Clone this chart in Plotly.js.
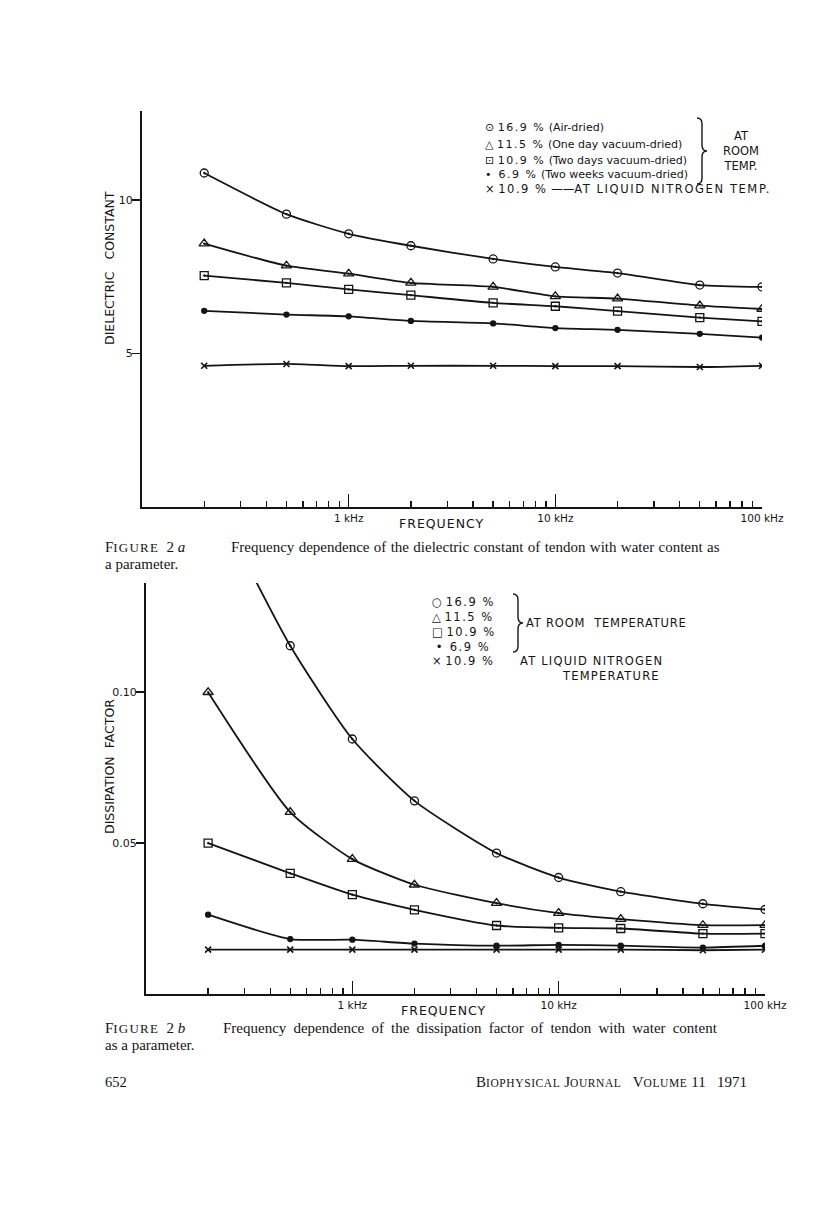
<!DOCTYPE html>
<html>
<head>
<meta charset="utf-8">
<script src="https://cdn.plot.ly/plotly-3.0.1.min.js"></script>
<style>
  body { margin: 0; background: #fff; }
  #page { width: 816px; height: 1212px; }
</style>
</head>
<body>
<div id="page"></div>
<script>
// frequencies in kHz (same for both figures)
var freqKHz = [0.2, 0.5, 1, 2, 5, 10, 20, 50, 100];

// Figure 2a - dielectric constant
var dc169 = [10.88, 9.54, 8.90, 8.51, 8.08, 7.82, 7.62, 7.23, 7.17];
var dc115 = [8.58, 7.86, 7.60, 7.30, 7.17, 6.86, 6.79, 6.56, 6.45];
var dc109 = [7.54, 7.30, 7.09, 6.90, 6.65, 6.54, 6.38, 6.17, 6.05];
var dc69  = [6.39, 6.27, 6.21, 6.06, 5.98, 5.83, 5.77, 5.64, 5.52];
var dcN2  = [4.60, 4.66, 4.59, 4.60, 4.60, 4.59, 4.59, 4.56, 4.60];

// Figure 2b - dissipation factor (first 16.9 % point is above the frame)
var df169 = [0.168, 0.1154, 0.0845, 0.0640, 0.0467, 0.0386, 0.0339, 0.0299, 0.0280];
var df115 = [0.1000, 0.0603, 0.0447, 0.0362, 0.0301, 0.0268, 0.0248, 0.0228, 0.0228];
var df109 = [0.0500, 0.0400, 0.0329, 0.0279, 0.0227, 0.0219, 0.0217, 0.0200, 0.0200];
var df69  = [0.0263, 0.0182, 0.0180, 0.0167, 0.0160, 0.0163, 0.0160, 0.0154, 0.0160];
var dfN2  = [0.0147, 0.0147, 0.0147, 0.0147, 0.0147, 0.0147, 0.0147, 0.0145, 0.0147];

var majorVals = [1, 10, 100];
var majorText = ['1 kHz', '10 kHz', '100 kHz'];
var minorVals = [0.2, 0.3, 0.4, 0.5, 0.6, 0.7, 0.8, 0.9,
                 2, 3, 4, 5, 6, 7, 8, 9,
                 20, 30, 40, 50, 60, 70, 80, 90];

var W = 816, H = 1212;
var INK = '#141414';
function px(x) { return x / W; }
function py(y) { return 1 - y / H; }

function series(y, symbol, size, xa, ya) {
  var m = {symbol: symbol, size: size, color: INK, line: {color: INK, width: 1.3}};
  if (symbol == 'x-thin') m.line.width = 1.6;
  return {
    x: freqKHz, y: y, xaxis: xa, yaxis: ya,
    mode: 'lines+markers', type: 'scatter',
    line: {color: INK, width: 1.8, shape: 'spline', smoothing: 0.6},
    marker: m, showlegend: false, hoverinfo: 'skip'
  };
}

var data = [
  series(dc169, 'circle-open-dot', 8, 'x', 'y'),
  series(dc115, 'triangle-up-open-dot', 9, 'x', 'y'),
  series(dc109, 'square-open-dot', 8, 'x', 'y'),
  series(dc69, 'circle', 5, 'x', 'y'),
  series(dcN2, 'x-thin', 6, 'x', 'y'),
  series(df169, 'circle-open-dot', 8, 'x2', 'y2'),
  series(df115, 'triangle-up-open-dot', 9, 'x2', 'y2'),
  series(df109, 'square-open-dot', 8, 'x2', 'y2'),
  series(df69, 'circle', 5, 'x2', 'y2'),
  series(dfN2, 'x-thin', 6, 'x2', 'y2')
];

function xAxis(left, right, anchor) {
  return {
    type: 'log', domain: [px(left), px(right)], range: [-1, 2], anchor: anchor,
    showline: true, linecolor: INK, linewidth: 2,
    showgrid: false, zeroline: false,
    ticks: 'inside', ticklen: 13, tickwidth: 1.6, tickcolor: INK,
    tickmode: 'array', tickvals: majorVals, ticktext: majorText,
    tickfont: {family: 'DejaVu Sans', size: 10.5, color: INK},
    minor: {tickmode: 'array', tickvals: minorVals, ticks: 'inside',
            ticklen: 6, tickwidth: 1.4, tickcolor: INK, showgrid: false}
  };
}
function yAxis(top, bottom, range, vals, text, anchor) {
  return {
    domain: [py(bottom), py(top)], range: range, anchor: anchor,
    showline: true, linecolor: INK, linewidth: 2,
    showgrid: false, zeroline: false,
    ticks: 'outside', ticklen: 8, tickwidth: 1.6, tickcolor: INK,
    ticklabelstandoff: -3,
    tickmode: 'array', tickvals: vals, ticktext: text,
    tickfont: {family: 'DejaVu Sans', size: 11, color: INK}
  };
}

function note(text, x, y, opts) {
  var a = {text: text, x: px(x), y: py(y), xref: 'paper', yref: 'paper',
           showarrow: false, xanchor: 'left', yanchor: 'middle',
           font: {family: 'DejaVu Sans', size: 11, color: INK}};
  for (var k in opts) a[k] = opts[k];
  return a;
}
function serif(size) { return {family: 'Liberation Serif', size: size, color: INK}; }
function sans(size) { return {family: 'DejaVu Sans', size: size, color: INK}; }
function spaced(text, ls) { return '<span style="letter-spacing:' + ls + 'px">' + text + '</span>'; }
function wordsp(text, ws) { return '<span style="word-spacing:' + ws + 'px">' + text + '</span>'; }
function smallcaps(text, size, ls) {
  return '<span style="font-size:' + size + 'px;letter-spacing:' + ls + 'px">' + text + '</span>';
}

// right-facing curly brace as a paper-coordinate path
function brace(x0, y0, y1, w) {
  var ym = (y0 + y1) / 2, xm = x0 + w / 2, r = 6;
  var pts = [
    'M', px(x0), py(y0),
    'Q', px(xm), py(y0), px(xm), py(y0 + r),
    'L', px(xm), py(ym - r),
    'Q', px(xm), py(ym), px(x0 + w), py(ym),
    'Q', px(xm), py(ym), px(xm), py(ym + r),
    'L', px(xm), py(y1 - r),
    'Q', px(xm), py(y1), px(x0), py(y1)
  ];
  var s = '';
  for (var i = 0; i < pts.length; i++) s += (typeof pts[i] == 'number' ? pts[i].toFixed(5) : pts[i]) + ' ';
  return {type: 'path', xref: 'paper', yref: 'paper', path: s,
          line: {color: INK, width: 1.4}};
}

var sp = '\u00a0';
var figPrefix = 'F' + smallcaps('IGURE', 13, 1.2) + sp + sp + '2' + sp;

var annotations = [
  // figure 2a text
  note('DIELECTRIC' + sp + sp + sp + 'CONSTANT', 109, 268, {textangle: -90, xanchor: 'center', font: sans(12.5)}),
  note(spaced('FREQUENCY', 1), 442, 523, {xanchor: 'center', font: sans(12.5)}),
  note('\u2299 ' + spaced('16.9 %', 1.5) + ' (Air-dried)', 483, 127),
  note('\u25B3 ' + spaced('11.5 %', 1.5) + ' (One day vacuum-dried)', 483, 144),
  note('\u22A1 ' + spaced('10.9 %', 1.5) + ' (Two days vacuum-dried)', 483, 160),
  note('\u2022' + sp + sp + spaced('6.9 %', 1.5) + ' (Two weeks vacuum-dried)', 483, 174),
  note('\u00D7 ' + spaced('10.9 %', 1.5) + ' \u2014\u2014' + spaced('AT LIQUID NITROGEN TEMP.', 1.6), 483, 189,
       {font: sans(11.5)}),
  note('AT<br>ROOM<br>TEMP.', 741, 151, {xanchor: 'center', align: 'center', font: sans(11.5)}),
  note(figPrefix + '<i>a</i>', 103, 547, {font: serif(15)}),
  note(wordsp('Frequency dependence of the dielectric constant of tendon with water content as', 0.6),
       229, 547, {font: serif(15)}),
  note('a parameter.', 103, 564, {font: serif(15)}),

  // figure 2b text
  note('DISSIPATION' + sp + sp + 'FACTOR', 109, 767, {textangle: -90, xanchor: 'center', font: sans(12.5)}),
  note(spaced('FREQUENCY', 1), 444, 1010, {xanchor: 'center', font: sans(12.5)}),
  note('\u25CB ' + spaced('16.9 %', 1.5), 430, 602, {font: sans(11.5)}),
  note('\u25B3 ' + spaced('11.5 %', 1.5), 430, 617, {font: sans(11.5)}),
  note('\u25A1 ' + spaced('10.9 %', 1.5), 430, 632, {font: sans(11.5)}),
  note(sp + '\u2022' + sp + sp + spaced('6.9 %', 1.5), 430, 647, {font: sans(11.5)}),
  note('\u00D7 ' + spaced('10.9 %', 1.5), 430, 661, {font: sans(11.5)}),
  note(spaced('AT LIQUID NITROGEN', 1.2), 518, 661, {font: sans(11.5)}),
  note(spaced('TEMPERATURE', 1.2), 560, 676, {font: sans(11.5)}),
  note(spaced('AT' + sp + 'ROOM' + sp + sp + 'TEMPERATURE', 0.8), 524, 623, {font: sans(11.5)}),
  note(figPrefix + '<i>b</i>', 103, 1028, {font: serif(15)}),
  note(wordsp('Frequency dependence of the dissipation factor of tendon with water content', 3.4),
       221, 1028, {font: serif(15)}),
  note('as a parameter.', 103, 1045, {font: serif(15)}),

  // page footer
  note('652', 103, 1082, {font: serif(14.5)}),
  note('B' + smallcaps('IOPHYSICAL', 11.5, 0.6) + ' J' + smallcaps('OURNAL', 11.5, 0.6) + sp + sp + sp +
       'V' + smallcaps('OLUME', 11.5, 0.6) + ' 11' + sp + sp + sp + '1971',
       749, 1082, {xanchor: 'right', font: serif(15)})
];

var layout = {
  width: W, height: H,
  margin: {l: 0, r: 0, t: 0, b: 0},
  paper_bgcolor: '#fff', plot_bgcolor: 'rgba(0,0,0,0)',
  showlegend: false,
  xaxis: xAxis(142, 762, 'y'),
  yaxis: yAxis(111, 507, [0, 12.9], [5, 10], ['5', '10'], 'x'),
  xaxis2: xAxis(146, 765, 'y2'),
  yaxis2: yAxis(583, 994, [0, 0.1362], [0.05, 0.10], ['0.05', '0.10'], 'x2'),
  annotations: annotations,
  shapes: [brace(697, 118, 184, 10), brace(513, 594, 652, 10)]
};

Plotly.newPlot('page', data, layout, {staticPlot: true});
</script>
</body>
</html>
